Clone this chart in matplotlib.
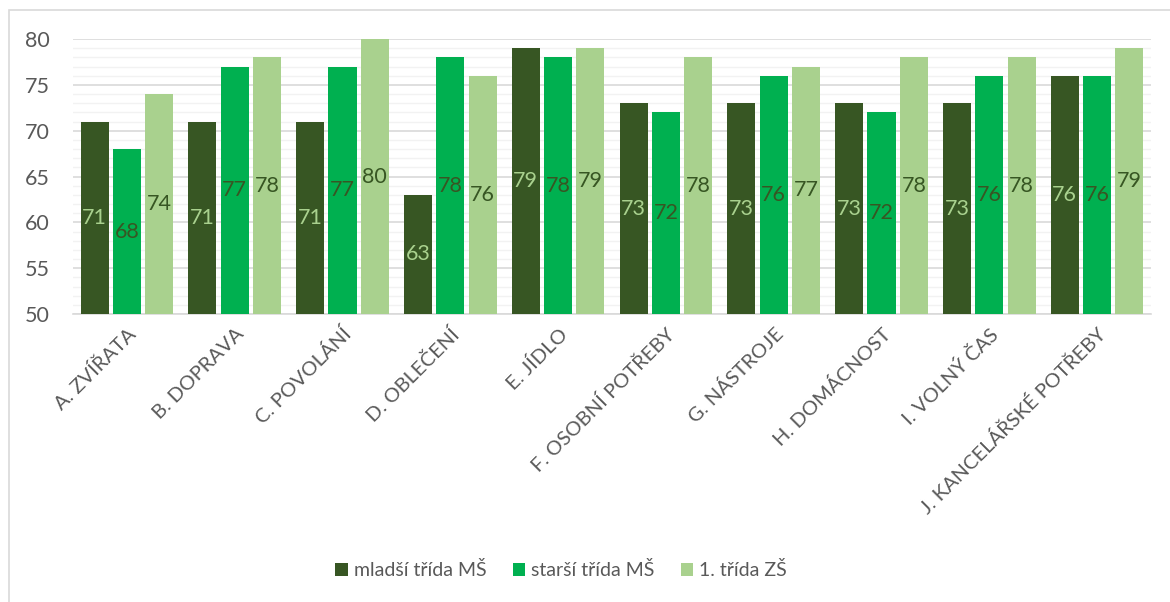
import matplotlib
matplotlib.use("Agg")
import matplotlib.pyplot as plt
import numpy as np
from matplotlib.patches import Rectangle

categories = ["A. ZVÍŘATA", "B. DOPRAVA", "C. POVOLÁNÍ", "D. OBLEČENÍ", "E. JÍDLO",
              "F. OSOBNÍ POTŘEBY", "G. NÁSTROJE", "H. DOMÁCNOST", "I. VOLNÝ ČAS",
              "J. KANCELÁŘSKÉ POTŘEBY"]
series_names = ["mladší třída MŠ", "starší třída MŠ", "1. třída ZŠ"]
mladsi = [71, 71, 71, 63, 79, 73, 73, 73, 73, 76]
starsi = [68, 77, 77, 78, 78, 72, 76, 72, 76, 76]
prvni = [74, 78, 80, 76, 79, 78, 77, 78, 78, 79]
yticks = [50, 55, 60, 65, 70, 75, 80]

colors = ["#375623", "#00B050", "#A9D18E"]
label_colors = ["#A9D18E", "#375623", "#375623"]

plt.rcParams['font.family'] = ['Lato', 'DejaVu Sans']

fig = plt.figure(figsize=(11.7, 6.02), dpi=100)
W, H = 1170, 602
ax = fig.add_axes([73 / W, 1 - 314 / H, (1151 - 73) / W, (314 - 39) / H])

x = np.arange(len(categories))
w = 0.26
step = 0.30
for i, (vals, c, lc) in enumerate(zip([mladsi, starsi, prvni], colors, label_colors)):
    pos = x + (i - 1) * step
    ax.bar(pos, np.array(vals) - 50, bottom=50, width=w, color=c,
           label=series_names[i], zorder=3)
    for p, v in zip(pos, vals):
        ax.text(p, (50 + v) / 2, str(v), ha='center', va='center', fontsize=15.5,
                color=lc, zorder=4)

ax.set_xlim(-0.5, len(categories) - 0.5)
ax.set_ylim(50, 80)
ax.set_yticks(yticks)
ax.set_yticks(np.arange(50, 81, 1), minor=True)
ax.grid(axis='y', which='major', color='#D9D9D9', linewidth=1.2, zorder=0)
ax.grid(axis='y', which='minor', color='#F2F2F2', linewidth=1.0, zorder=0)
ax.tick_params(axis='y', which='both', length=0, labelsize=15.5, labelcolor='#595959', pad=16.5)
ax.set_xticks(x)
ax.set_xticklabels(categories, rotation=45, ha='right', rotation_mode='anchor',
                   fontsize=14.5, color='#595959')
ax.tick_params(axis='x', length=0, pad=8)
for s in ['top', 'right', 'left']:
    ax.spines[s].set_visible(False)
ax.spines['bottom'].set_color('#D9D9D9')
ax.spines['bottom'].set_linewidth(1.2)

leg = fig.legend(loc='center', bbox_to_anchor=(561 / W, 1 - 570 / H), ncol=3,
                 frameon=False, fontsize=14, handlelength=0.65, handleheight=0.65,
                 handletextpad=0.3, columnspacing=1.35)
for t in leg.get_texts():
    t.set_color('#595959')

# chart area border
fig.patches.append(Rectangle((8.5 / W, -0.1), 1.2, 1 - 9.5 / H + 0.1,
                             transform=fig.transFigure, fill=False,
                             edgecolor='#D9D9D9', linewidth=1.2))

fig.savefig("out.png", dpi=100)
